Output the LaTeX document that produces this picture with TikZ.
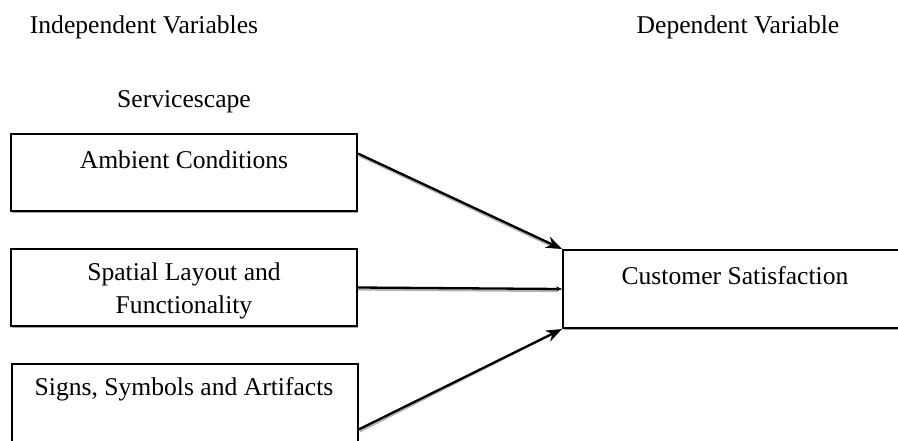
\documentclass[tikz,border=0pt]{standalone}
\usepackage{fontspec}
\setmainfont{Liberation Serif}
\usetikzlibrary{calc,shadows,arrows.meta}
\begin{document}
\begin{tikzpicture}[x=0.5pt,y=-0.5pt,
  varbox/.style={draw=black, line width=1pt, fill=white, rectangle,
    minimum width=173pt, minimum height=38.5pt, inner sep=0pt, anchor=north west,
    drop shadow={shadow xshift=0.6pt, shadow yshift=-1pt, fill=black!35, opacity=1}},
  lbl/.style={font=\fontsize{12.8pt}{16.5pt}\selectfont, inner sep=0pt, anchor=base},
  link/.style={line width=1.15pt, -{Stealth[length=8pt,width=6pt]}},
  linkshade/.style={line width=1.1pt, black!30},
  thinlink/.style={line width=1.15pt, -{Stealth[length=3pt,width=2.6pt]}}]
\useasboundingbox (0,0) rectangle (898,440);
\clip (0,0) rectangle (898,440);

% headings
\node[lbl] (indep) at (144,33) {Independent Variables};
\node[lbl] (dep) at (738,33) {Dependent Variable};
\node[lbl] (scape) at (184,107) {Servicescape};

% boxes
\node[varbox] (amb) at (10,133) {};
\node[varbox] (spa) at (10,248) {};
\node[varbox, minimum height=50pt] (sig) at (11,363) {};
\node[varbox, minimum width=180pt, minimum height=39pt] (cus) at (562,249) {};

% box texts
\node[lbl] (ambt) at (184,168) {Ambient Conditions};
\node[lbl] (spat1) at (184,280) {Spatial Layout and};
\node[lbl] (spat2) at (184,313) {Functionality};
\node[lbl] (sigt) at (184,395) {Signs, Symbols and Artifacts};
\node[lbl] (cust) at (735,284) {Customer Satisfaction};

% connectors: a light offset stroke under each arrow
\coordinate (a1) at ($(amb.north east)!0.26!(amb.south east)$);
\coordinate (a2) at (spa.east);
\coordinate (a3) at ($(sig.north east)!0.65!(sig.south east)$);

\draw[linkshade] ($(a1)+(1,2)$) -- ($(cus.north west)+(-6,-1)$);
\draw[linkshade] ($(a2)+(0,2)$) -- ($(cus.west)+(-6,2)$);
\draw[linkshade] ($(a3)+(1,2)$) -- ($(cus.south west)+(-6,3)$);

\draw[link] (a1) -- (cus.north west);
\draw[thinlink] (a2) -- (cus.west);
\draw[link] (a3) -- (cus.south west);
\end{tikzpicture}
\end{document}
